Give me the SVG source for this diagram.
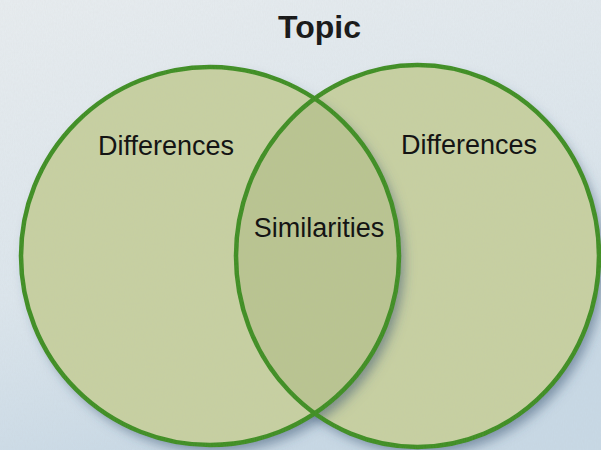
<svg xmlns="http://www.w3.org/2000/svg" width="601" height="450" viewBox="0 0 601 450">
  <defs>
    <linearGradient id="bg" x1="0" y1="0" x2="0.35" y2="1">
      <stop offset="0" stop-color="#e8edf0"/>
      <stop offset="0.6" stop-color="#dce6ed"/>
      <stop offset="1" stop-color="#c8d9e6"/>
    </linearGradient>
    <filter id="shadow" x="-20%" y="-20%" width="150%" height="150%">
      <feGaussianBlur in="SourceAlpha" stdDeviation="6"/>
      <feOffset dx="5" dy="7" result="blur"/>
      <feFlood flood-color="#34506e" flood-opacity="0.55"/>
      <feComposite in2="blur" operator="in"/>
      <feMerge>
        <feMergeNode/>
        <feMergeNode in="SourceGraphic"/>
      </feMerge>
    </filter>
    <filter id="grain" x="0" y="0" width="100%" height="100%">
      <feTurbulence type="fractalNoise" baseFrequency="0.9 0.35" numOctaves="2" seed="4"/>
      <feColorMatrix type="matrix" values="0 0 0 0 0.5  0 0 0 0 0.5  0 0 0 0 0.5  0 0 0 0.12 0"/>
    </filter>
    <clipPath id="clip-left">
      <circle cx="210" cy="256" r="189"/>
    </clipPath>
    <style>
      .set { fill: #c7d0a0; }
      .overlap { fill: #b9c48f; }
      .ring { fill: none; stroke: #3c8d1f; stroke-width: 4.5; }
      .label { font-family: "Liberation Sans", Arial, Helvetica, sans-serif; font-size: 27px; fill: #141414; text-anchor: middle; }
      .title { font-family: "Liberation Sans", Arial, Helvetica, sans-serif; font-size: 32px; font-weight: bold; fill: #111; text-anchor: middle; }
    </style>
  </defs>

  <!-- backdrop -->
  <rect width="601" height="450" fill="url(#bg)"/>

  <!-- title -->
  <g id="topic">
    <text class="title" x="319.5" y="38">Topic</text>
  </g>

  <!-- right set -->
  <g id="circle-right">
    <ellipse class="set" cx="417.5" cy="256" rx="181.5" ry="191" filter="url(#shadow)"/>
  </g>

  <!-- left set, casting its shadow onto the right one -->
  <g id="circle-left">
    <circle class="set" cx="210" cy="256" r="189" filter="url(#shadow)"/>
  </g>

  <!-- shared region -->
  <g id="overlap">
    <ellipse class="overlap" cx="417.5" cy="256" rx="181.5" ry="191" clip-path="url(#clip-left)"/>
  </g>

  <!-- outlines -->
  <g id="outlines">
    <ellipse class="ring" cx="417.5" cy="256" rx="181.5" ry="191"/>
    <circle class="ring" cx="210" cy="256" r="189"/>
  </g>

  <!-- fabric grain over everything -->
  <rect width="601" height="450" filter="url(#grain)" pointer-events="none"/>

  <!-- labels -->
  <g id="labels">
    <text class="label" x="166" y="155">Differences</text>
    <text class="label" x="469" y="154">Differences</text>
    <text class="label" x="319" y="237">Similarities</text>
  </g>
</svg>
